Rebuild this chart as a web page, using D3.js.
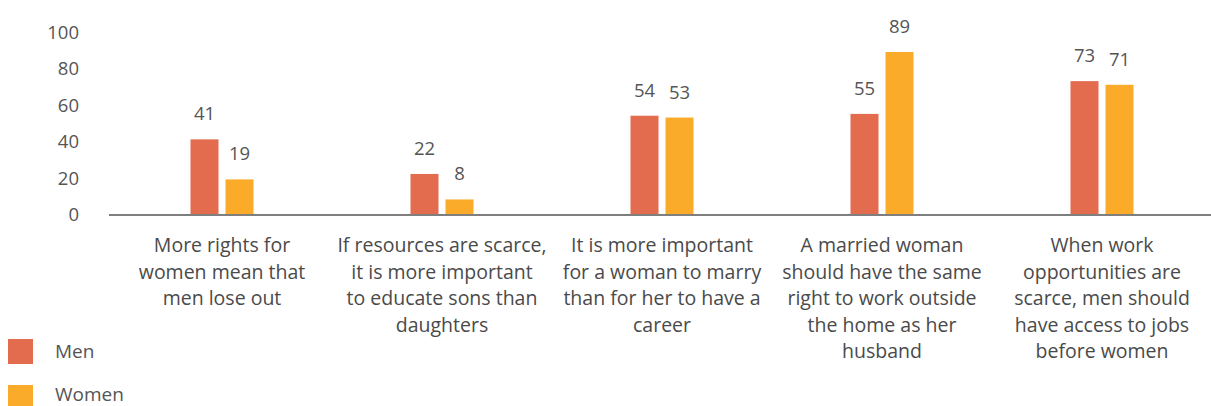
<!DOCTYPE html>
<html><head><meta charset="utf-8">
<script src="https://cdn.jsdelivr.net/npm/d3@7"></script>
<style>body{margin:0;background:#fff}svg{display:block}text{font-family:"Open Sans",Lato,sans-serif}</style>
</head><body>
<svg id="c" width="1211" height="406"></svg>
<script>
const categories = [
  ["More rights for","women mean that","men lose out"],
  ["If resources are scarce,","it is more important","to educate sons than","daughters"],
  ["It is more important","for a woman to marry","than for her to have a","career"],
  ["A married woman","should have the same","right to work outside","the home as her","husband"],
  ["When work","opportunities are","scarce, men should","have access to jobs","before women"]
];
const seriesNames = ["Men","Women"];
const men = [41,22,54,55,73];
const women = [19,8,53,89,71];
const yTicks = [0,20,40,60,80,100];
const colors = ["#E36B4E","#F9AB29"];

const svg = d3.select("#c");
const x = d3.scaleBand().domain(d3.range(categories.length)).range([112,1212]);
const y = d3.scaleLinear().domain([0,100]).range([214,32]);
const barW = 28, gap = 7;
const series = [men, women];

// y tick labels
svg.append("g").selectAll("text").data(yTicks).join("text")
  .attr("x",79).attr("y",d=>y(d)).attr("dy","0.38em")
  .attr("text-anchor","end").attr("font-size",18.5).attr("fill","#555")
  .text(d=>d);

// bars
series.forEach((vals,si)=>{
  const off = si===0 ? -(barW+gap/2) : gap/2;
  svg.append("g").selectAll("rect").data(vals).join("rect")
    .attr("x",(d,i)=>x(i)+x.bandwidth()/2+off)
    .attr("y",d=>y(d)).attr("width",barW).attr("height",d=>y(0)-y(d))
    .attr("fill",colors[si]);
  svg.append("g").selectAll("text").data(vals).join("text")
    .attr("x",(d,i)=>x(i)+x.bandwidth()/2+off+barW/2)
    .attr("y",d=>y(d)-19).attr("text-anchor","middle")
    .attr("font-size",18.5).attr("fill","#555").text(d=>d);
});

// axis line
svg.append("line").attr("x1",109).attr("x2",1211).attr("y1",y(0)+1).attr("y2",y(0)+1)
  .attr("stroke","#7f7f7f").attr("stroke-width",2);

// category labels
categories.forEach((lines,i)=>{
  const t = svg.append("text").attr("text-anchor","middle").attr("font-size",19.5).attr("fill","#4a4a4a");
  lines.forEach((l,j)=>{
    t.append("tspan").attr("x",x(i)+x.bandwidth()/2).attr("y",252+j*26.5).text(l);
  });
});

// legend
seriesNames.forEach((n,i)=>{
  svg.append("rect").attr("x",8).attr("y",339+i*46).attr("width",25).attr("height",25).attr("fill",colors[i]);
  svg.append("text").attr("x",55).attr("y",351+i*43).attr("dy","0.35em")
    .attr("font-size",19).attr("fill","#555").text(n);
});
</script>
</body></html>
